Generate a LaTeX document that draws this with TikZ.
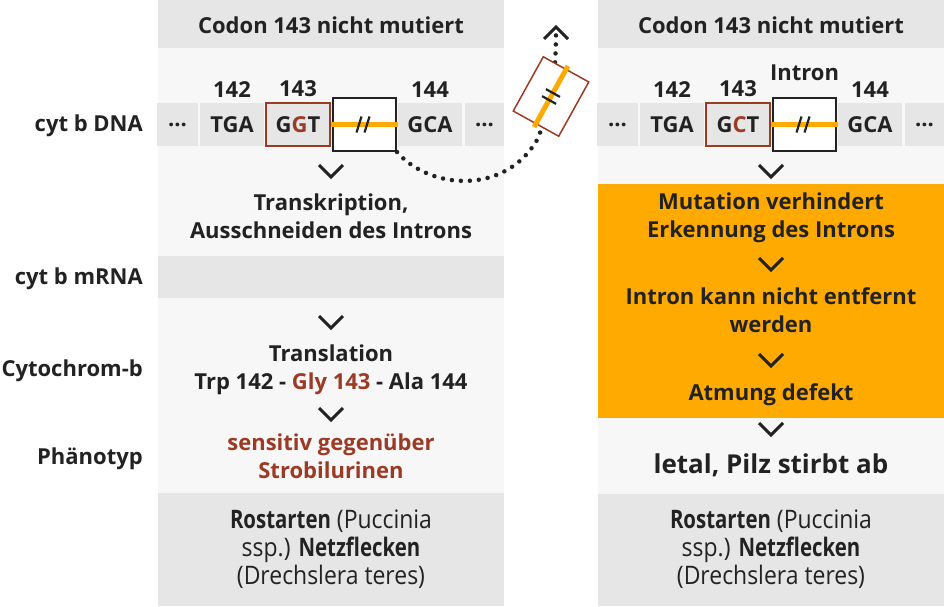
\documentclass[tikz,border=0pt]{standalone}
\usepackage{fontspec}
\setmainfont{Open Sans}
\newfontfamily\condfont[FakeStretch=0.9, BoldFeatures={FakeStretch=0.8}]{Open Sans}
\usetikzlibrary{positioning,calc}

\definecolor{bandgray}{HTML}{E6E6E6}
\definecolor{bandlight}{HTML}{F7F7F7}
\definecolor{signal}{HTML}{FFAA00}
\definecolor{rust}{HTML}{9C3B25}
\definecolor{ink}{HTML}{222222}

\tikzset{
  txt/.style={font=\bfseries\fontsize{22}{28}\selectfont, text=ink, align=center, inner sep=0pt},
  lbl/.style={txt, anchor=east},
  cell/.style={txt, fill=bandgray, minimum width=64pt, minimum height=43pt},
  codon/.style={cell, draw=rust, line width=1.5pt},
  intronbox/.style={fill=white, draw=ink, line width=2pt, minimum width=63pt, minimum height=53pt, inner sep=0pt},
  host/.style={txt, font=\condfont\fontsize{25.5}{28}\selectfont},
  exonline/.style={signal, line width=5pt},
  slash/.style={ink, line width=2.2pt},
  dotline/.style={ink, line width=4.5pt, line cap=round, dash pattern=on 0pt off 9pt},
  chevron/.pic={\draw[ink, line width=3pt] (-12,-6) -- (0,6) -- (12,-6);},
}

\begin{document}
\begin{tikzpicture}[x=1pt, y=-1pt]
\useasboundingbox (0,0) rectangle (944,606);

% bands left
\fill[bandgray] (158,0) rectangle (504,48);
\fill[bandlight] (158,48) rectangle (504,256);
\fill[bandgray] (158,256) rectangle (504,298);
\fill[bandlight] (158,298) rectangle (504,493);
\fill[bandgray] (158,493) rectangle (504,606);
% bands right
\fill[bandgray] (598,0) rectangle (944,48);
\fill[bandlight] (598,48) rectangle (944,184);
\fill[signal] (598,184) rectangle (944,418);
\fill[bandlight] (598,418) rectangle (944,494);
\fill[bandgray] (598,494) rectangle (944,606);

% row labels
\node[lbl] (ldna) at (143,125.5) {cyt b DNA};
\node[lbl] (lmrna) at (143,279) {cyt b mRNA};
\node[lbl] (lcyt) at (143,371) {Cytochrom-b};
\node[lbl] (lphen) at (143,459) {Phänotyp};

% headers
\node[txt] (head1) at (331,25) {Codon 143 nicht mutiert};
\node[txt] (head2) at (771,25) {Codon 143 nicht mutiert};

% DNA left
\node[cell, minimum width=41pt] (dotsa1) at (177.5,124.5) {...};
\node[cell] (tga1) at (232,124.5) {TGA};
\node[codon] (ggt1) at (298,124.5) {G\textcolor{rust}{G}T};
\node[intronbox] (in1) at (364.5,124.5) {};
\node[cell] (gca1) at (430,124.5) {GCA};
\node[cell, minimum width=39pt] (dotsb1) at (484.5,124.5) {...};
\node[txt, above=5pt of tga1] (n142a) {142};
\node[txt, above=5pt of ggt1] (n143a) {143};
\node[txt, above=5pt of gca1] (n144a) {144};
\draw[exonline] (ggt1.east) -- (gca1.west);
\draw[slash] (in1.center) ++(-8,8) -- ++(5,-16);
\draw[slash] (in1.center) ++(0,8) -- ++(5,-16);

% DNA right
\node[cell, minimum width=41pt] (dotsa2) at (617.5,124.5) {...};
\node[cell] (tga2) at (672,124.5) {TGA};
\node[codon] (gct2) at (738,124.5) {G\textcolor{rust}{C}T};
\node[intronbox] (in2) at (804.5,124.5) {};
\node[cell] (gca2) at (870,124.5) {GCA};
\node[cell, minimum width=39pt] (dotsb2) at (924.5,124.5) {...};
\node[txt, above=5pt of tga2] (n142b) {142};
\node[txt, above=5pt of gct2] (n143b) {143};
\node[txt, above=5pt of gca2] (n144b) {144};
\node[txt, above=16pt of in2] (intron) {Intron};
\draw[exonline] (gct2.east) -- (gca2.west);
\draw[slash] (in2.center) ++(-8,8) -- ++(5,-16);
\draw[slash] (in2.center) ++(0,8) -- ++(5,-16);

% cut out intron
\coordinate (tip) at (556,31);
\draw[dotline] (in1.south east) .. controls (430,190) and (505,195) .. (537,140)
  .. controls (550,110) and (556,80) .. (tip);
\pic[rotate=180] at (556,33) {chevron};
\node[intronbox, draw=rust, line width=1.5pt, rotate=61, minimum width=62pt, minimum height=52pt] (cut) at (551,96.5) {};
\draw[exonline] ($(cut.west)!-0.05!(cut.east)$) -- ($(cut.east)!-0.05!(cut.west)$);
\begin{scope}[shift={(cut.center)}, rotate=61]
\draw[slash] (-4,-8) -- (-4,8) (4,-8) -- (4,8);
\end{scope}

% left column
\pic at (331,171) {chevron};
\node[txt] (trans) at (331,216) {Transkription,\\Ausschneiden des Introns};
\pic at (331,322) {chevron};
\node[txt] (transl) at (331,370) {Translation\\Trp 142 - \textcolor{rust}{Gly 143} - Ala 144};
\pic at (331,414) {chevron};
\node[txt, text=rust] (sens) at (331,456) {sensitiv gegenüber\\Strobilurinen};
\node[host] (host1) at (331,549) {\textbf{Rostarten} (Puccinia\\ssp.) \textbf{Netzflecken}\\(Drechslera teres)};

% right column
\pic at (771,171) {chevron};
\node[txt] (mut) at (771,218) {Mutation verhindert\\Erkennung des Introns};
\pic at (771,264) {chevron};
\node[txt] (nosplice) at (771,310) {Intron kann nicht entfernt\\werden};
\pic at (771,360) {chevron};
\node[txt] (resp) at (771,395) {Atmung defekt};
\pic at (771,429) {chevron};
\node[txt, font=\bfseries\fontsize{26}{28}\selectfont] (letal) at (771,465) {letal, Pilz stirbt ab};
\node[host] (host2) at (771,549) {\textbf{Rostarten} (Puccinia\\ssp.) \textbf{Netzflecken}\\(Drechslera teres)};
\end{tikzpicture}
\end{document}
